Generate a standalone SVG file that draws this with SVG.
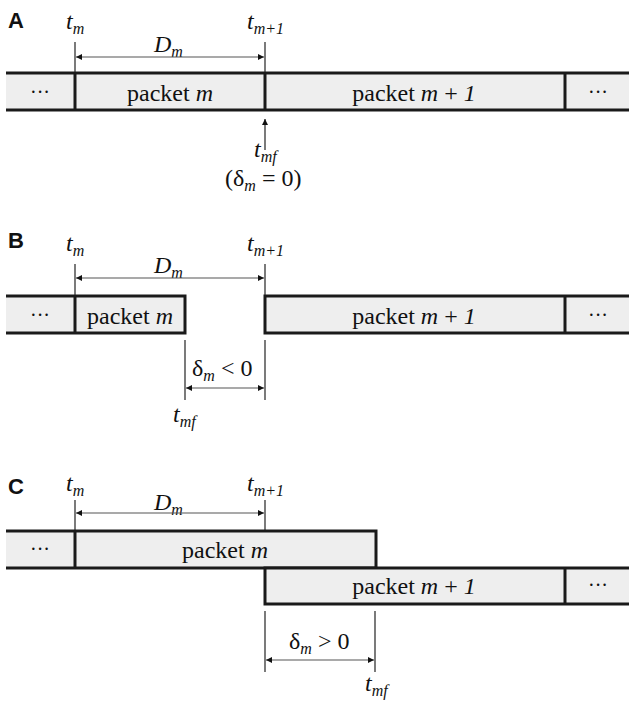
<svg xmlns="http://www.w3.org/2000/svg" width="629" height="703" viewBox="0 0 629 703">
<style>
.box{fill:#eeeeee;stroke:none}
.edge{stroke:#1a1a1a;stroke-width:3;fill:none}
.tick{stroke:#222;stroke-width:1.2}
.dim{stroke:#555;stroke-width:1.2;marker-start:url(#ah);marker-end:url(#ah)}
.t{font-family:"Liberation Serif",serif;font-size:24px;fill:#111}
.d{font-family:"Liberation Serif",serif;font-size:20px;fill:#111}
.i{font-style:italic}
.s{font-size:16px;font-style:italic}
.lab{font-family:"Liberation Sans",Arial,sans-serif;font-size:22px;font-weight:bold;fill:#111}
</style>
<defs>
<marker id="ah" viewBox="0 0 10 10" refX="10" refY="5" markerWidth="8" markerHeight="6" markerUnits="userSpaceOnUse" orient="auto-start-reverse">
<path d="M0,0 L10,5 L0,10 z" fill="#111"/>
</marker>
</defs>

<!-- Panel A -->
<g id="panelA">
<text class="lab" x="8" y="28">A</text>
<g id="A-bar">
<rect class="box" x="6" y="73" width="623" height="37"/>
<line class="edge" x1="6" y1="73" x2="629" y2="73"/>
<line class="edge" x1="6" y1="110" x2="629" y2="110"/>
<line class="edge" x1="75" y1="73" x2="75" y2="110"/>
<line class="edge" x1="265" y1="73" x2="265" y2="110"/>
<line class="edge" x1="565" y1="73" x2="565" y2="110"/>
<text class="d" x="40" y="99" text-anchor="middle">···</text>
<text class="t" x="170" y="101" text-anchor="middle">packet <tspan class="i">m</tspan></text>
<text class="t" x="414" y="101" text-anchor="middle">packet <tspan class="i">m</tspan> + <tspan class="i">1</tspan></text>
<text class="d" x="598" y="99" text-anchor="middle">···</text>
</g>
<g id="A-labels">
<text class="t i" x="66" y="29">t<tspan class="s" dy="5">m</tspan></text>
<text class="t i" x="247" y="29">t<tspan class="s" dy="5">m+1</tspan></text>
<text class="t i" x="154" y="52">D<tspan class="s" dy="5">m</tspan></text>
<text class="t i" x="254" y="157">t<tspan class="s" dy="5">mf</tspan></text>
<text class="t" x="225" y="186">(δ<tspan class="s" dy="5">m</tspan><tspan dy="-5"> = 0)</tspan></text>
</g>
</g>

<!-- Panel B -->
<g id="panelB">
<text class="lab" x="8" y="248">B</text>
<g id="B-bar">
<rect class="box" x="6" y="296" width="179" height="37"/>
<path class="edge" d="M6,296 H185 V333 H6"/>
<line class="edge" x1="75" y1="296" x2="75" y2="333"/>
<rect class="box" x="265" y="296" width="364" height="37"/>
<path class="edge" d="M629,296 H265 V333 H629"/>
<line class="edge" x1="565" y1="296" x2="565" y2="333"/>
<text class="d" x="40" y="322" text-anchor="middle">···</text>
<text class="t" x="130" y="324" text-anchor="middle">packet <tspan class="i">m</tspan></text>
<text class="t" x="414" y="324" text-anchor="middle">packet <tspan class="i">m</tspan> + <tspan class="i">1</tspan></text>
<text class="d" x="598" y="322" text-anchor="middle">···</text>
</g>
<g id="B-labels">
<text class="t i" x="66" y="251">t<tspan class="s" dy="5">m</tspan></text>
<text class="t i" x="247" y="251">t<tspan class="s" dy="5">m+1</tspan></text>
<text class="t i" x="154" y="273">D<tspan class="s" dy="5">m</tspan></text>
<text class="t" x="192" y="376">δ<tspan class="s" dy="5">m</tspan><tspan dy="-5"> &lt; 0</tspan></text>
<text class="t i" x="173" y="422">t<tspan class="s" dy="5">mf</tspan></text>
</g>
</g>

<!-- Panel C -->
<g id="panelC">
<text class="lab" x="8" y="494">C</text>
<g id="C-bar">
<rect class="box" x="6" y="531" width="370" height="37"/>
<path class="edge" d="M6,531 H376 V568 H6"/>
<line class="edge" x1="75" y1="531" x2="75" y2="568"/>
<rect class="box" x="265" y="568" width="364" height="36"/>
<path class="edge" d="M629,568 H265 V604 H629"/>
<line class="edge" x1="565" y1="568" x2="565" y2="604"/>
<text class="d" x="40" y="556" text-anchor="middle">···</text>
<text class="t" x="225" y="558" text-anchor="middle">packet <tspan class="i">m</tspan></text>
<text class="t" x="414" y="594" text-anchor="middle">packet <tspan class="i">m</tspan> + <tspan class="i">1</tspan></text>
<text class="d" x="598" y="592" text-anchor="middle">···</text>
</g>
<g id="C-labels">
<text class="t i" x="66" y="491">t<tspan class="s" dy="5">m</tspan></text>
<text class="t i" x="247" y="491">t<tspan class="s" dy="5">m+1</tspan></text>
<text class="t i" x="154" y="510">D<tspan class="s" dy="5">m</tspan></text>
<text class="t" x="289" y="649">δ<tspan class="s" dy="5">m</tspan><tspan dy="-5"> &gt; 0</tspan></text>
<text class="t i" x="365" y="691">t<tspan class="s" dy="5">mf</tspan></text>
</g>
</g>

<g id="connectors">
<!-- A -->
<line class="tick" x1="75" y1="42" x2="75" y2="72"/>
<line class="tick" x1="265" y1="42" x2="265" y2="72"/>
<line class="dim" x1="76" y1="57" x2="264" y2="57"/>
<line class="tick" x1="265" y1="150" x2="265" y2="119" marker-end="url(#ah)"/>
<!-- B -->
<line class="tick" x1="75" y1="264" x2="75" y2="295"/>
<line class="tick" x1="265" y1="264" x2="265" y2="295"/>
<line class="dim" x1="76" y1="278" x2="264" y2="278"/>
<line class="tick" x1="185" y1="340" x2="185" y2="400"/>
<line class="tick" x1="265" y1="340" x2="265" y2="400"/>
<line class="dim" x1="186" y1="388" x2="264" y2="388"/>
<!-- C -->
<line class="tick" x1="75" y1="500" x2="75" y2="530"/>
<line class="tick" x1="265" y1="500" x2="265" y2="530"/>
<line class="dim" x1="76" y1="513" x2="264" y2="513"/>
<line class="tick" x1="265" y1="611" x2="265" y2="672"/>
<line class="tick" x1="375" y1="611" x2="375" y2="672"/>
<line class="dim" x1="266" y1="660" x2="374" y2="660"/>
</g>
</svg>
